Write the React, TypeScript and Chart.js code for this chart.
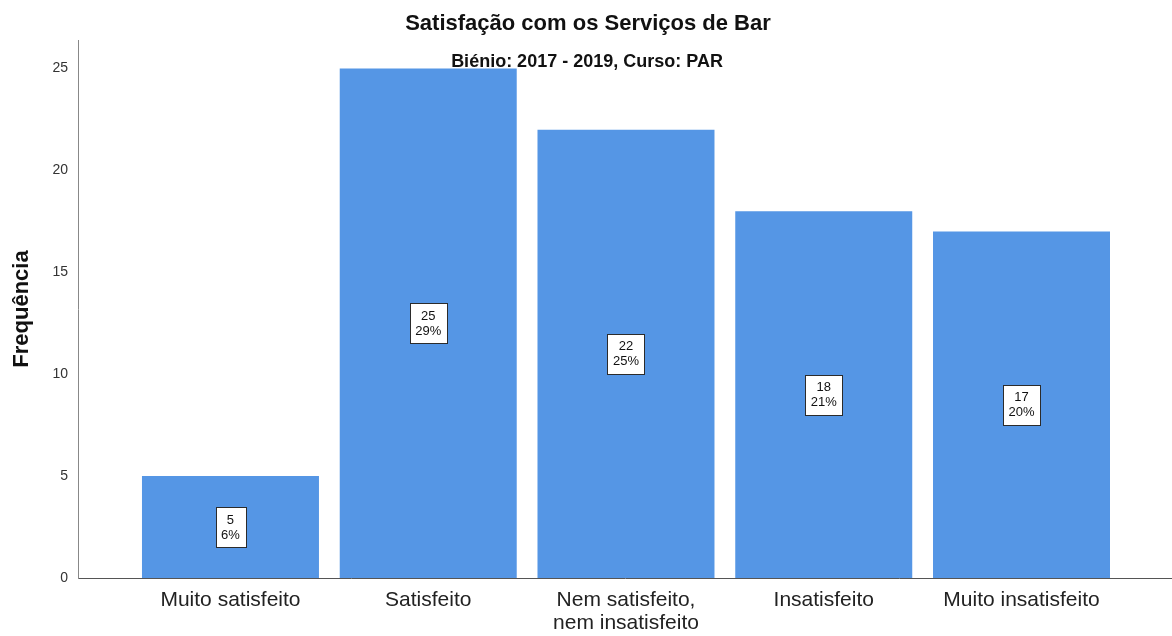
import React, { useEffect, useRef } from "react";
import { Chart, registerables } from "chart.js";

Chart.register(...registerables);

const categories: string[][] = [
  ["Muito satisfeito"],
  ["Satisfeito"],
  ["Nem satisfeito,", "nem insatisfeito"],
  ["Insatisfeito"],
  ["Muito insatisfeito"],
];
const counts: number[] = [5, 25, 22, 18, 17];
const percents: string[] = ["6%", "29%", "25%", "21%", "20%"];
const yTicks: number[] = [0, 5, 10, 15, 20, 25];

const titleText = "Satisfação com os Serviços de Bar";
const subtitleText = "Biénio: 2017 - 2019, Curso: PAR";
const yTitle = "Frequência";

const FONT = "'Liberation Sans', Arial, sans-serif";

const labelPlugin = {
  id: "barLabels",
  afterDatasetsDraw(chart: any) {
    const ctx = chart.ctx;
    const meta = chart.getDatasetMeta(0);
    ctx.save();
    ctx.font = `13px ${FONT}`;
    ctx.textAlign = "center";
    ctx.textBaseline = "middle";
    meta.data.forEach((el: any, i: number) => {
      const cx = el.x;
      const cy = (el.y + el.base) / 2;
      const l1 = String(counts[i]);
      const l2 = percents[i];
      const w = Math.max(ctx.measureText(l1).width, ctx.measureText(l2).width) + 11;
      const h = 40;
      const x0 = Math.round(cx - w / 2) + 0.5;
      const y0 = Math.round(cy - h / 2) + 0.5;
      ctx.fillStyle = "#ffffff";
      ctx.fillRect(x0, y0, Math.round(w), h);
      ctx.strokeStyle = "#2b2b2b";
      ctx.lineWidth = 1;
      ctx.strokeRect(x0, y0, Math.round(w), h);
      ctx.fillStyle = "#111111";
      ctx.fillText(l1, cx, cy - 7);
      ctx.fillText(l2, cx, cy + 8);
    });
    // titles
    ctx.fillStyle = "#111111";
    ctx.textAlign = "center";
    ctx.textBaseline = "alphabetic";
    ctx.font = `bold 22px ${FONT}`;
    ctx.fillText(titleText, 588, 30);
    ctx.font = `bold 18px ${FONT}`;
    ctx.fillText(subtitleText, 587, 67);
    ctx.restore();
  },
};

function App() {
  const ref = useRef<HTMLCanvasElement | null>(null);
  useEffect(() => {
    if (!ref.current) return;
    const chart = new Chart(ref.current, {
      type: "bar",
      data: {
        datasets: [
          {
            data: counts.map((v, i) => ({ x: i, y: v })),
            backgroundColor: "#5596e5",
            borderWidth: 0,
            barPercentage: 0.895,
            categoryPercentage: 1,
          },
        ],
      },
      plugins: [labelPlugin],
      options: {
        animation: false,
        responsive: true,
        maintainAspectRatio: false,
        layout: { padding: { top: 40, left: 0, right: 0, bottom: 0 } },
        plugins: {
          legend: { display: false },
          tooltip: { enabled: false },
          title: { display: false },
        },
        scales: {
          x: {
            type: "linear",
            offset: false,
            min: -0.771,
            max: 4.761,
            afterFit(scale: any) {
              scale.height = 58;
            },
            grid: { display: false, drawTicks: false, offset: false },
            border: { display: true, color: "#555555", width: 1 },
            ticks: {
              stepSize: 1,
              includeBounds: false,
              autoSkip: false,
              maxRotation: 0,
              padding: 11,
              color: "#222222",
              font: { family: FONT, size: 21, lineHeight: 1.1 },
              callback: (v: any) =>
                Number.isInteger(v) && v >= 0 && v < categories.length ? categories[v] : "",
            },
          },
          y: {
            type: "linear",
            min: 0,
            max: 26.4,
            afterFit(scale: any) {
              scale.width = 78;
            },
            afterBuildTicks(scale: any) {
              scale.ticks = yTicks.map((v) => ({ value: v }));
            },
            grid: { display: false, drawTicks: false },
            border: { display: true, color: "#888888", width: 1 },
            ticks: {
              padding: 10,
              color: "#333333",
              font: { family: FONT, size: 14 },
            },
            title: {
              display: true,
              text: yTitle,
              color: "#111111",
              font: { family: FONT, size: 22, weight: "bold" },
              padding: { top: 9, bottom: 4 },
            },
          },
        },
      },
    } as any);
    return () => chart.destroy();
  }, []);
  return (
    <div style={{ position: "fixed", left: 0, top: 0, width: 1172, height: 636, background: "#fff" }}>
      <canvas ref={ref} />
    </div>
  );
}

export default App;
